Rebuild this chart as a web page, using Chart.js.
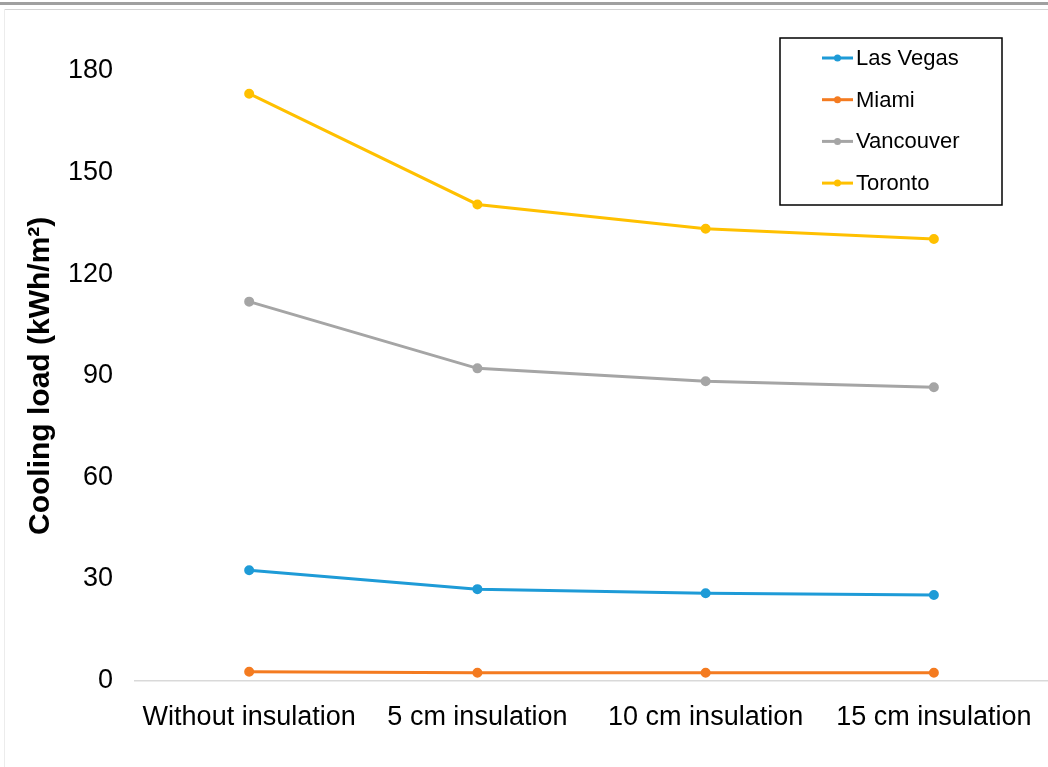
<!DOCTYPE html>
<html>
<head>
<meta charset="utf-8">
<script src="https://cdn.jsdelivr.net/npm/chart.js@4"></script>
<style>
  html, body { margin: 0; padding: 0; background: #fff; }
  #wrap { width: 1048px; height: 767px; position: relative; }
</style>
</head>
<body>
<div id="wrap"><canvas id="coolingChart" width="1048" height="767"></canvas></div>
<script>
// insulation cases on the x axis
const labels = ["Without insulation", "5 cm insulation", "10 cm insulation", "15 cm insulation"];

// cooling load per city, kWh/m2
const lasVegas = [32.6, 27.0, 25.8, 25.3];
const miami = [2.6, 2.3, 2.3, 2.3];
const vancouver = [111.9, 92.2, 88.4, 86.6];
const toronto = [173.3, 140.6, 133.4, 130.4];

const yTicks = [0, 30, 60, 90, 120, 150, 180];

const FONT = "'Liberation Sans', Arial, sans-serif";

function series(name, values, color) {
    return {
        label: name,
        data: values,
        borderColor: color,
        backgroundColor: color,
        borderWidth: 3,
        pointRadius: 3.5,
        pointHoverRadius: 3.5,
        tension: 0
    };
}

// frame lines round the picture
const framePlugin = {
    id: "frame",
    beforeDraw(chart) {
        const ctx = chart.ctx;
        ctx.save();
        ctx.fillStyle = "#fff";
        ctx.fillRect(0, 0, chart.width, chart.height);
        ctx.fillStyle = "#a0a0a0";
        ctx.fillRect(0, 2, chart.width, 3);
        ctx.fillStyle = "#d4d4d4";
        ctx.fillRect(4, 9, chart.width - 4, 1);
        ctx.fillStyle = "#ececec";
        ctx.fillRect(4, 9, 1, chart.height - 9);
        ctx.restore();
    }
};

// boxed legend in the top right corner
const boxLegend = {
    id: "boxLegend",
    afterDraw(chart) {
        const ctx = chart.ctx;
        const x = 780, y = 38, w = 222, h = 167;
        ctx.save();
        ctx.strokeStyle = "#000";
        ctx.lineWidth = 1.5;
        ctx.strokeRect(x, y, w, h);
        ctx.font = "22px " + FONT;
        ctx.textBaseline = "middle";
        chart.data.datasets.forEach((ds, i) => {
            const cy = y + 20 + i * 41.7;
            ctx.strokeStyle = ds.borderColor;
            ctx.lineWidth = 3;
            ctx.beginPath();
            ctx.moveTo(822, cy);
            ctx.lineTo(853, cy);
            ctx.stroke();
            ctx.fillStyle = ds.borderColor;
            ctx.beginPath();
            ctx.arc(837.5, cy, 3.5, 0, Math.PI * 2);
            ctx.fill();
            ctx.fillStyle = "#000";
            ctx.fillText(ds.label, 856, cy + 1);
        });
        ctx.restore();
    }
};

new Chart(document.getElementById("coolingChart"), {
    type: "line",
    data: {
        labels: labels,
        datasets: [
            series("Las Vegas", lasVegas, "#1e9bd7"),
            series("Miami", miami, "#f47b20"),
            series("Vancouver", vancouver, "#a5a5a5"),
            series("Toronto", toronto, "#ffc000")
        ]
    },
    options: {
        responsive: false,
        animation: false,
        layout: { autoPadding: false, padding: { top: 71, right: 0, bottom: 20, left: 23 } },
        plugins: {
            legend: { display: false },
            tooltip: { enabled: false }
        },
        scales: {
            x: {
                offset: true,
                // labels fit inside the offset, no extra side padding needed
                afterFit(scale) {
                    scale.paddingLeft = 0;
                    scale.paddingRight = 0;
                },
                grid: { display: false },
                border: { display: true, color: "#d9d9d9", width: 1.5 },
                ticks: { color: "#000", font: { family: FONT, size: 27 }, padding: 13, maxRotation: 0 }
            },
            y: {
                min: 0,
                max: 180,
                afterBuildTicks(axis) {
                    axis.ticks = yTicks.map(v => ({ value: v }));
                },
                grid: { display: false },
                border: { display: false },
                ticks: { color: "#000", font: { family: FONT, size: 27 }, padding: 14 },
                title: {
                    display: true,
                    text: "Cooling load (kWh/m²)",
                    color: "#000",
                    font: { family: FONT, size: 30, weight: "bold" },
                    padding: { top: 0, bottom: -5 }
                }
            }
        }
    },
    plugins: [framePlugin, boxLegend]
});
</script>
</body>
</html>
